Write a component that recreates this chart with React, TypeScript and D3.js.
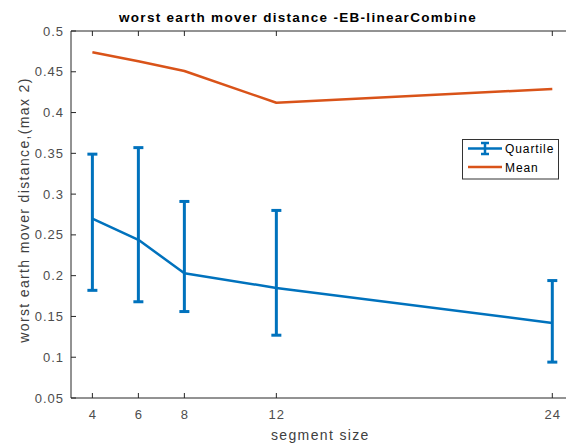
import React from "react";
import * as d3 from "d3";

const segmentSizes = [4, 6, 8, 12, 24];
const meanValues = [0.474, 0.463, 0.451, 0.412, 0.429];
const quartileMid = [0.270, 0.244, 0.203, 0.185, 0.142];
const quartileUpper = [0.349, 0.357, 0.291, 0.280, 0.194];
const quartileLower = [0.182, 0.168, 0.156, 0.127, 0.094];
const yTicks = [0.05, 0.1, 0.15, 0.2, 0.25, 0.3, 0.35, 0.4, 0.45, 0.5];
const xTicks = [4, 6, 8, 12, 24];

const BLUE = "#0072BD";
const ORANGE = "#D95319";
const AXIS = "#262626";
const FONT = "'Liberation Sans', Arial, Helvetica, sans-serif";

export default function App() {
  const W = 566, H = 446;
  const left = 71, top = 31, bottom = 398, right = 573;
  const x = d3.scaleLinear().domain([3.07, 24.9]).range([left, right]);
  const y = d3.scaleLinear().domain([0.05, 0.5]).range([bottom, top]);

  const meanLine = d3.line<number>().x((_, i) => x(segmentSizes[i])).y((d) => y(d))(meanValues) || "";
  const quartLine = d3.line<number>().x((_, i) => x(segmentSizes[i])).y((d) => y(d))(quartileMid) || "";
  const cap = 5;

  return (
    <div style={{ position: "fixed", left: 0, top: 0, width: W, height: H, overflow: "hidden" }}>
      <svg width={W} height={H} style={{ display: "block", background: "#fff" }} fontFamily={FONT}>
        {/* axes */}
        <line x1={left} x2={right} y1={bottom} y2={bottom} stroke={AXIS} strokeWidth={1} />
        <line x1={left} x2={right} y1={top} y2={top} stroke={AXIS} strokeWidth={1} />
        <line x1={left} x2={left} y1={top} y2={bottom} stroke={AXIS} strokeWidth={1} />
        {yTicks.map((t) => (
          <g key={"y" + t}>
            <line x1={left} x2={left + 5} y1={y(t)} y2={y(t)} stroke={AXIS} />
            <text x={left - 7} y={y(t) + 4.5} textAnchor="end" fontSize={13} letterSpacing={1} fill="#4d4d4d">
              {String(t)}
            </text>
          </g>
        ))}
        {xTicks.map((t) => (
          <g key={"x" + t}>
            <line x1={x(t)} x2={x(t)} y1={bottom} y2={bottom - 5} stroke={AXIS} />
            <line x1={x(t)} x2={x(t)} y1={top} y2={top + 5} stroke={AXIS} />
            <text x={x(t) + 0.5} y={bottom + 21} textAnchor="middle" fontSize={13} letterSpacing={1} fill="#4d4d4d">
              {String(t)}
            </text>
          </g>
        ))}
        {/* mean */}
        <path d={meanLine} fill="none" stroke={ORANGE} strokeWidth={2.5} strokeLinejoin="round" />
        {/* quartile */}
        <path d={quartLine} fill="none" stroke={BLUE} strokeWidth={2.5} strokeLinejoin="round" />
        {segmentSizes.map((s, i) => (
          <g key={"e" + s} stroke={BLUE} strokeWidth={3}>
            <line x1={x(s)} x2={x(s)} y1={y(quartileUpper[i])} y2={y(quartileLower[i])} />
            <line x1={x(s) - cap} x2={x(s) + cap} y1={y(quartileUpper[i])} y2={y(quartileUpper[i])} />
            <line x1={x(s) - cap} x2={x(s) + cap} y1={y(quartileLower[i])} y2={y(quartileLower[i])} />
          </g>
        ))}
        {/* title */}
        <text x={298} y={22} textAnchor="middle" fontSize={13.5} letterSpacing={1.3} fontWeight="bold" fill="#000">
          worst earth mover distance -EB-linearCombine
        </text>
        {/* axis labels */}
        <text x={271} y={440} textAnchor="start" fontSize={14} letterSpacing={1.35} fill="#404040">segment size</text>
        <text transform={`translate(29,210) rotate(-90)`} textAnchor="middle" fontSize={14} letterSpacing={1.35} fill="#404040">
          worst earth mover distance,(max 2)
        </text>
        {/* legend */}
        <g>
          <rect x={462.5} y={139.5} width={96} height={39.5} fill="#fff" stroke="#333" strokeWidth={1} />
          <line x1={468} x2={502} y1={148.5} y2={148.5} stroke={BLUE} strokeWidth={2.5} />
          <line x1={485} x2={485} y1={143} y2={154} stroke={BLUE} strokeWidth={2.5} />
          <line x1={481} x2={489} y1={143} y2={143} stroke={BLUE} strokeWidth={2.5} />
          <line x1={481} x2={489} y1={154} y2={154} stroke={BLUE} strokeWidth={2.5} />
          <text x={505} y={153} fontSize={12} letterSpacing={0.9} fill="#000">Quartile</text>
          <line x1={468} x2={502} y1={167} y2={167} stroke={ORANGE} strokeWidth={2.5} />
          <text x={505} y={171.5} fontSize={12} letterSpacing={0.9} fill="#000">Mean</text>
        </g>
      </svg>
    </div>
  );
}
